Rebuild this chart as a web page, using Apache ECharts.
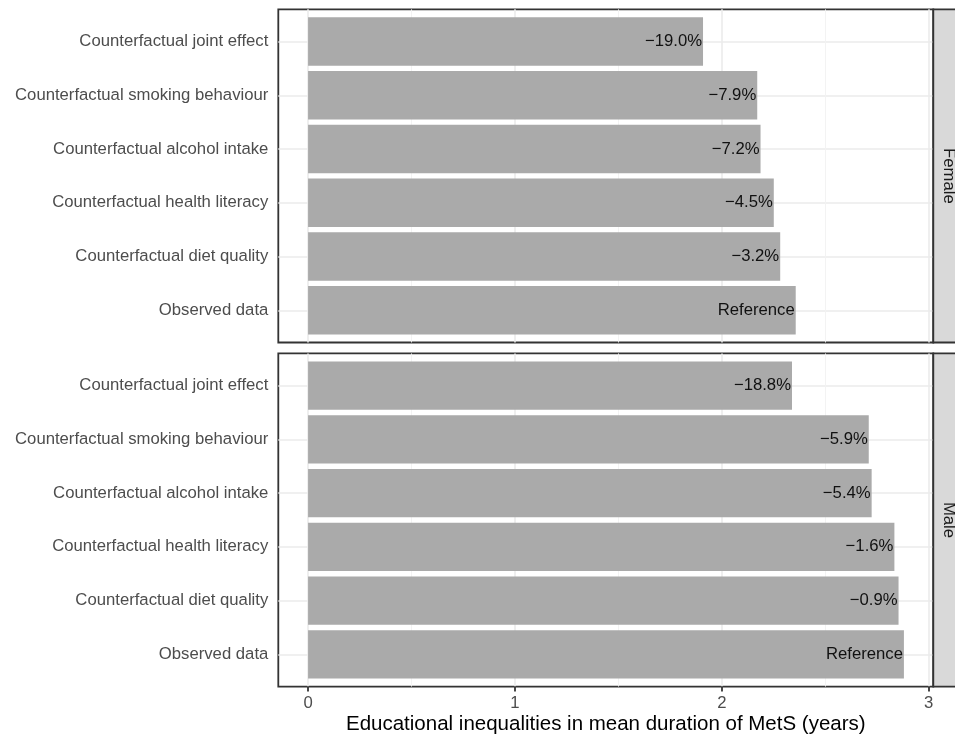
<!DOCTYPE html>
<html>
<head>
<meta charset="utf-8">
<script src="https://cdn.jsdelivr.net/npm/echarts@6/dist/echarts.min.js"></script>
<style>
html,body{margin:0;padding:0;background:#fff;}
#chart{width:955px;height:738px;}
</style>
</head>
<body>
<div id="chart"></div>
<script>
// ---- data ----
const categories = [
  "Counterfactual joint effect",
  "Counterfactual smoking behaviour",
  "Counterfactual alcohol intake",
  "Counterfactual health literacy",
  "Counterfactual diet quality",
  "Observed data"
];
const panels = ["Female", "Male"];
const femaleValues = [1.909, 2.171, 2.187, 2.251, 2.282, 2.357];
const femaleLabels = ["\u221219.0%", "\u22127.9%", "\u22127.2%", "\u22124.5%", "\u22123.2%", "Reference"];
const maleValues = [2.339, 2.710, 2.724, 2.834, 2.854, 2.880];
const maleLabels = ["\u221218.8%", "\u22125.9%", "\u22125.4%", "\u22121.6%", "\u22120.9%", "Reference"];
const xTicks = [0, 1, 2, 3];
const xMinorTicks = [0.5, 1.5, 2.5];
const yGridAt = [1, 2, 3, 4, 5, 6];
const xTitle = "Educational inequalities in mean duration of MetS (years)";

// ---- layout ----
const FONT = "'Liberation Sans', Arial, Helvetica, sans-serif";
const XMIN = -0.1439, XMAX = 3.022;
const LEFT = 278.3, RIGHT = 955 - 933.3;
const PANEL_H = 333.2;
const BAND = PANEL_H / 6.2;
const panelTops = [9.3, 353.4];
const GRID_COLOR = '#EBEBEB';
const series = [femaleValues, maleValues];
const labels = [femaleLabels, maleLabels];
const noTick = {show: false, length: 0, lineStyle: {color: 'rgba(0,0,0,0)', width: 0}};

const chart = echarts.init(document.getElementById('chart'), null, {renderer: 'canvas'});

const grid = [], xAxis = [], yAxis = [], seriesList = [], graphic = [];
panelTops.forEach((top, p) => {
  grid.push({left: LEFT, right: RIGHT, top: top, height: PANEL_H, show: true,
    borderColor: '#333333', borderWidth: 1.8, backgroundColor: '#ffffff',
    containLabel: false, outerBoundsMode: 'none'});
  grid.push({left: LEFT, right: RIGHT, top: top + 0.1 * BAND, height: 6 * BAND,
    containLabel: false, outerBoundsMode: 'none'});
  const gf = p * 2, gd = p * 2 + 1;
  const isBottom = p === panelTops.length - 1;
  xAxis.push({type: 'value', gridIndex: gf, min: XMIN, max: XMAX, position: 'bottom',
    axisLine: {show: false},
    axisTick: isBottom ? {show: true, customValues: xTicks, length: 5, lineStyle: {color: '#333333', width: 1.8}}
                       : Object.assign({customValues: xTicks}, noTick),
    axisLabel: {show: isBottom, customValues: xTicks, margin: 8, color: '#4D4D4D', fontSize: 16.7, fontFamily: FONT},
    splitLine: {show: true, lineStyle: {color: GRID_COLOR, width: 1.6}},
    name: isBottom ? xTitle : '', nameLocation: 'middle', nameGap: 27,
    nameTextStyle: {color: '#000000', fontSize: 20.5, fontFamily: FONT}
  });
  xAxis.push({type: 'value', gridIndex: gf, min: XMIN, max: XMAX, position: 'top',
    axisLine: {show: false},
    axisTick: Object.assign({customValues: xMinorTicks}, noTick),
    axisLabel: {show: false},
    splitLine: {show: true, lineStyle: {color: '#F2F2F2', width: 0.9}}
  });
  xAxis.push({type: 'value', gridIndex: gd, min: XMIN, max: XMAX, show: false,
    axisTick: noTick, splitLine: {show: false}});
  yAxis.push({type: 'value', gridIndex: gf, min: 0.4, max: 6.6,
    axisLine: {show: false}, axisLabel: {show: false},
    axisTick: Object.assign({customValues: yGridAt}, noTick),
    splitLine: {show: true, lineStyle: {color: GRID_COLOR, width: 1.6}}
  });
  yAxis.push({type: 'category', gridIndex: gd, data: categories, inverse: true,
    axisLine: {show: false}, axisTick: noTick, splitLine: {show: false},
    axisLabel: {margin: 10, color: '#4D4D4D', fontSize: 16.7, fontFamily: FONT}
  });
  seriesList.push({
    type: 'bar', name: panels[p], xAxisIndex: p * 3 + 2, yAxisIndex: p * 2 + 1,
    data: series[p], barWidth: '90%',
    itemStyle: {color: '#AAAAAA'},
    label: {show: true, position: 'insideRight', distance: 1,
      formatter: (d) => labels[p][d.dataIndex],
      color: '#111111', fontSize: 16.7, fontFamily: FONT},
    silent: true, animation: false
  });
  graphic.push({type: 'rect', shape: {x: 933.3, y: top, width: 32, height: PANEL_H},
    style: {fill: '#D9D9D9', stroke: '#333333', lineWidth: 1.8}, z: 10});
  graphic.push({type: 'text', x: 948.3, y: top + PANEL_H / 2, rotation: -Math.PI / 2,
    style: {text: panels[p], fill: '#1A1A1A', font: '16.7px ' + FONT, align: 'center', verticalAlign: 'middle'}, z: 11});
});

chart.setOption({
  animation: false,
  grid: grid,
  xAxis: xAxis,
  yAxis: yAxis,
  series: seriesList,
  graphic: graphic
});
</script>
</body>
</html>
